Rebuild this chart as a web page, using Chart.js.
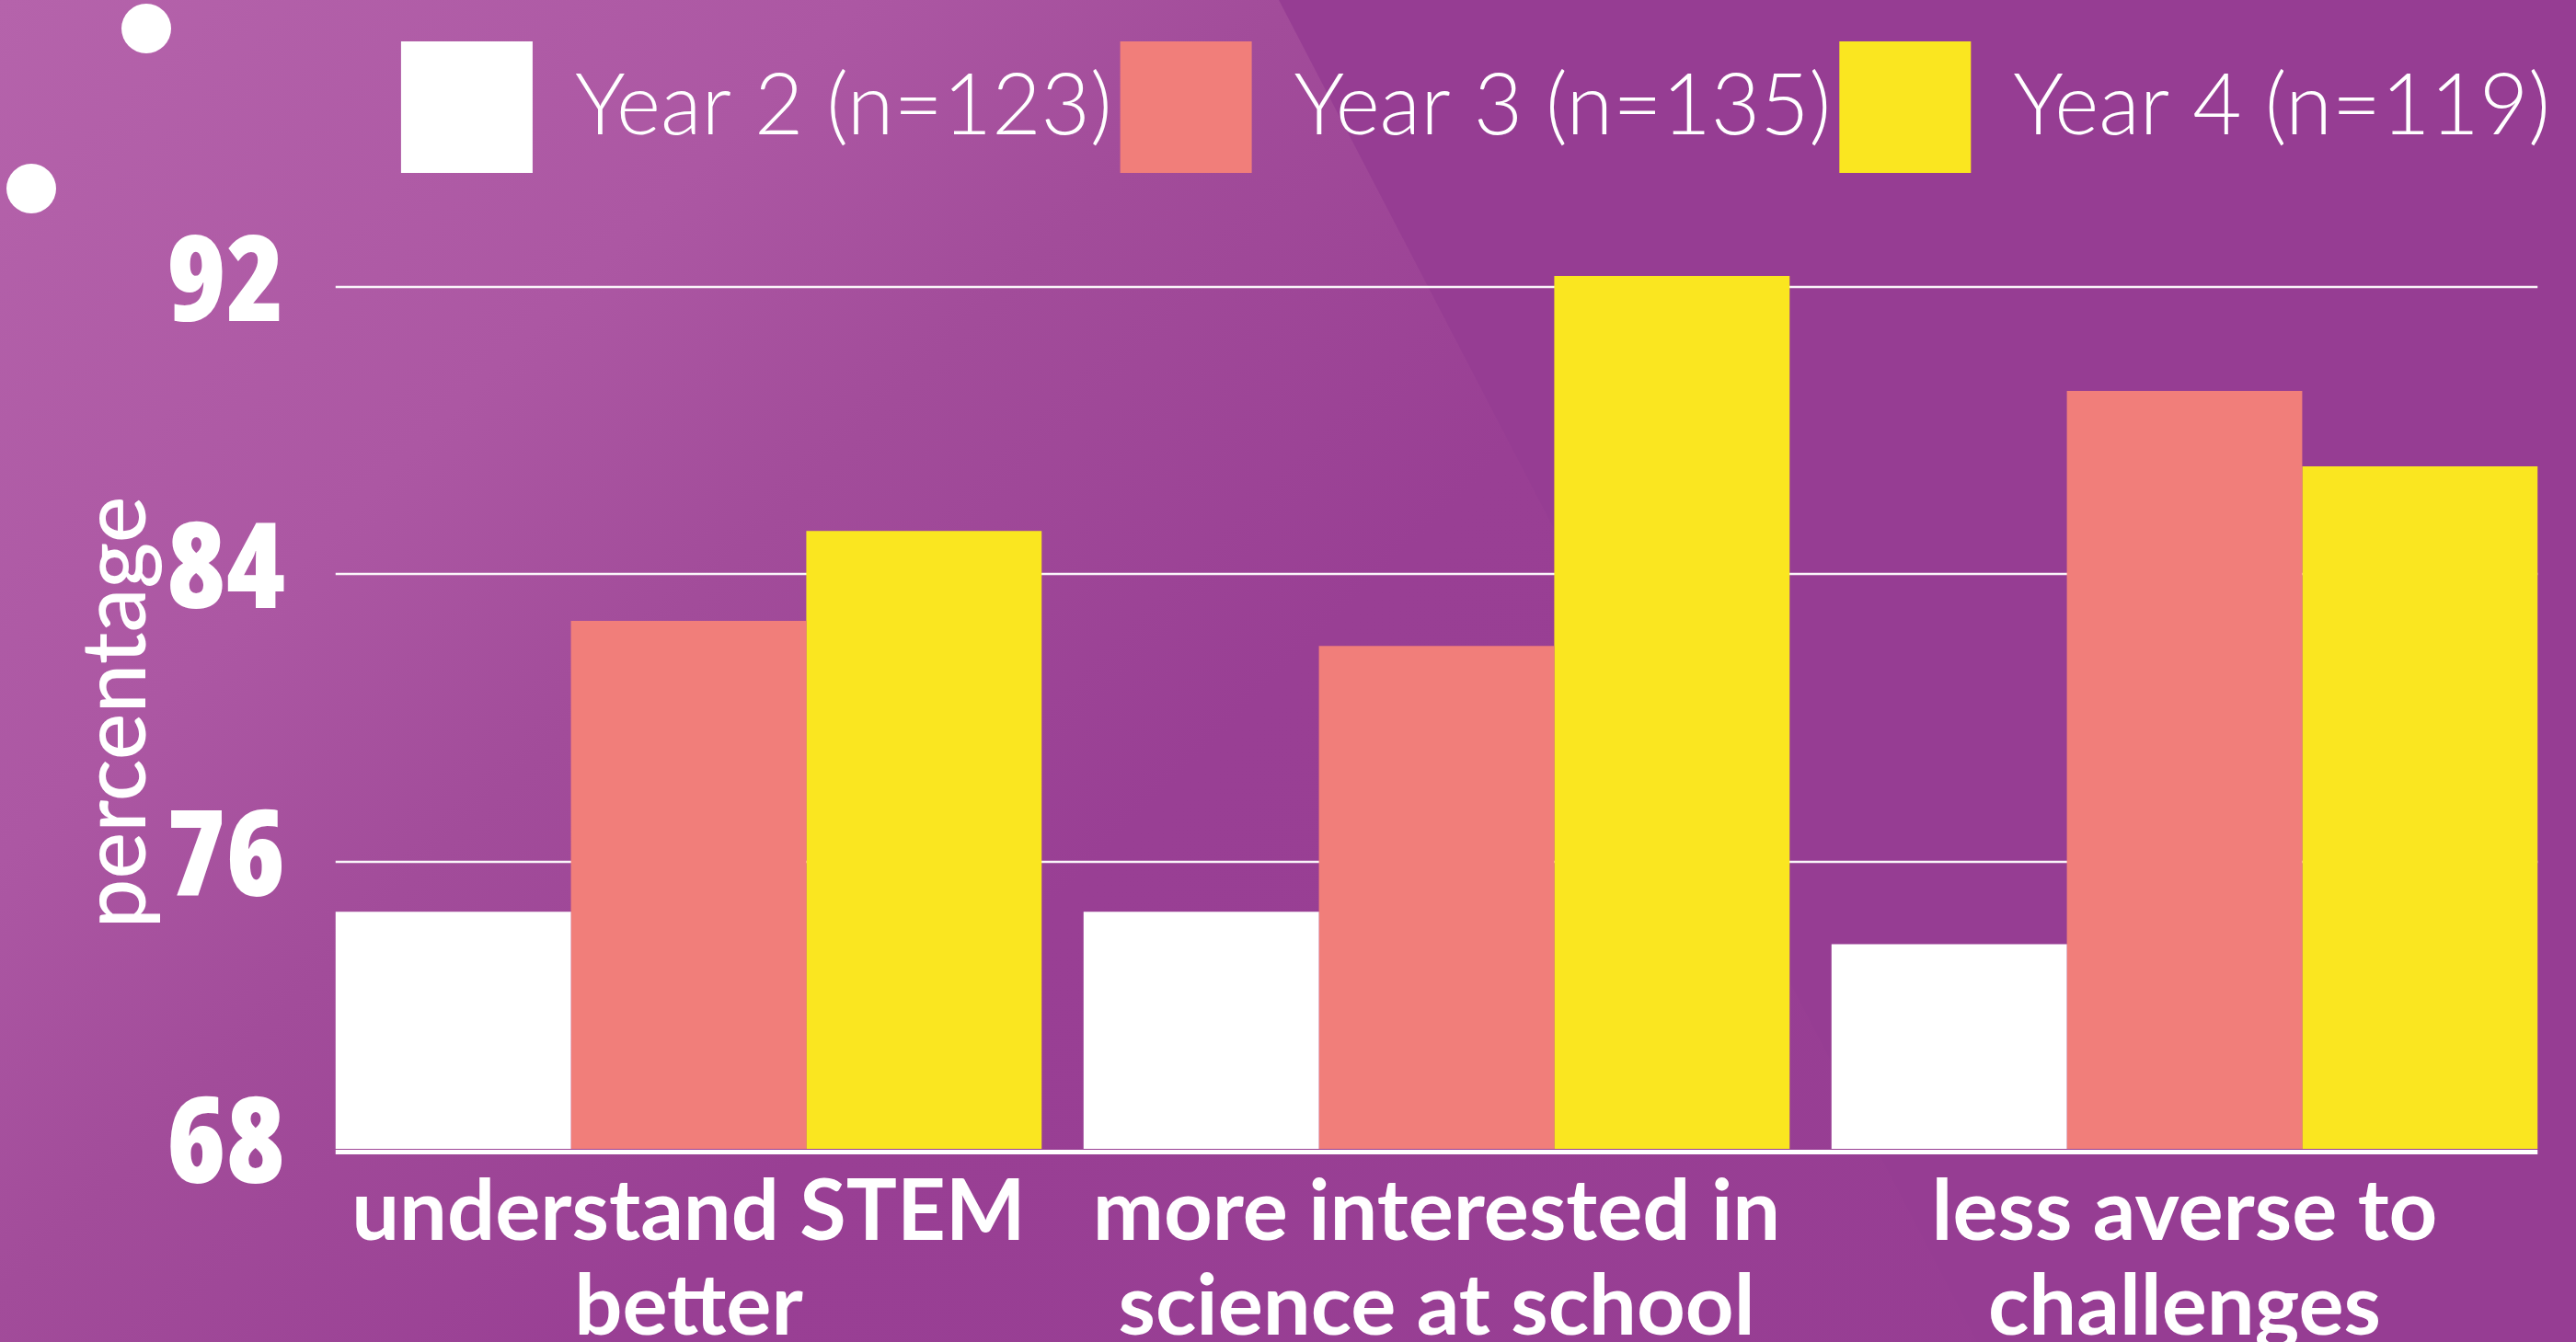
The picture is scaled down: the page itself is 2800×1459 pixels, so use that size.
<!DOCTYPE html>
<html lang="en">
<head>
    <meta charset="UTF-8">
    <title>Year 2 - Year 4 survey</title>
    <style>
        html, body {
            margin: 0;
            padding: 0;
        }
        body {
            width: 2800px;
            height: 1459px;
            overflow: hidden;
            position: relative;
            background: #963d93;
        }
        .glow {
            position: absolute;
            left: 0;
            top: 0;
            width: 2800px;
            height: 1459px;
            background: linear-gradient(135deg, #b563ab 0%, #ac57a3 22%, #a24c9a 33%, #993f94 50%, #963d93 100%);
            clip-path: polygon(0 0, 1390px 0, 2149px 1459px, 0 1459px);
        }
        .dot {
            position: absolute;
            width: 54px;
            height: 54px;
            border-radius: 50%;
            background: #fff;
        }
        .chart-box {
            position: absolute;
            left: 0;
            top: 0;
            width: 2800px;
            height: 1459px;
        }
    </style>
    <script src="https://cdn.jsdelivr.net/npm/chart.js"></script>
</head>
<body>
    <div class="glow"></div>
    <div class="dot" style="left:132px; top:4px;"></div>
    <div class="dot" style="left:7px; top:178px;"></div>
    <div class="chart-box"><canvas id="chart"></canvas></div>

    <script>
        // data
        const categories = [
            ['understand STEM', 'better'],
            ['more interested in', 'science at school'],
            ['less averse to', 'challenges']
        ];
        const seriesNames = ['Year 2 (n=123)', 'Year 3 (n=135)', 'Year 4 (n=119)'];
        const year2 = [74.6, 74.6, 73.7];
        const year3 = [82.7, 82.0, 89.1];
        const year4 = [85.2, 92.3, 87.0];
        const yTicks = [68, 76, 84, 92];
        const yMin = 68;
        const yMax = 92.3;

        const colors = ['#ffffff', '#f17e7a', '#fae620'];

        // push the plot down below the legend
        const legendSpacer = {
            id: 'legendSpacer',
            beforeInit(chart) {
                if (!chart.legend) return;
                const fit = chart.legend.fit;
                chart.legend.fit = function () {
                    fit.call(this);
                    this.height += 102;
                };
            }
        };

        // white grid lines only under the bar groups, plus the thick base line
        function barSpan(chart) {
            const first = chart.getDatasetMeta(0).data[0];
            const lastMeta = chart.getDatasetMeta(chart.data.datasets.length - 1);
            const last = lastMeta.data[lastMeta.data.length - 1];
            return [first.x - first.width / 2, last.x + last.width / 2];
        }
        const gridLines = {
            id: 'gridLines',
            beforeDatasetsDraw(chart) {
                const { ctx } = chart;
                const y = chart.scales.y;
                const [left, right] = barSpan(chart);
                ctx.save();
                ctx.strokeStyle = 'rgba(255,255,255,0.95)';
                ctx.lineWidth = 2.5;
                yTicks.forEach(v => {
                    if (v === yMin) return;
                    const py = Math.round(y.getPixelForValue(v));
                    ctx.beginPath();
                    ctx.moveTo(left, py);
                    ctx.lineTo(right, py);
                    ctx.stroke();
                });
                ctx.restore();
            },
            afterDatasetsDraw(chart) {
                const { ctx } = chart;
                const y = chart.scales.y;
                const [left, right] = barSpan(chart);
                ctx.save();
                ctx.fillStyle = '#ffffff';
                ctx.fillRect(left, y.getPixelForValue(yMin) + 1, right - left, 5);
                ctx.restore();
            }
        };

        const ctx = document.getElementById('chart').getContext('2d');
        new Chart(ctx, {
            type: 'bar',
            data: {
                labels: categories,
                datasets: [year2, year3, year4].map((vals, i) => ({
                    label: seriesNames[i],
                    data: vals,
                    backgroundColor: colors[i],
                    borderWidth: 0,
                    categoryPercentage: 0.944,
                    barPercentage: 1
                }))
            },
            options: {
                responsive: true,
                maintainAspectRatio: false,
                animation: false,
                layout: { padding: { top: 36, right: 19, bottom: 0, left: 0 } },
                plugins: {
                    legend: {
                        position: 'top',
                        align: 'end',
                        labels: {
                            color: '#ffffff',
                            boxWidth: 143,
                            boxHeight: 143,
                            padding: 9,
                            font: { family: 'Lato', size: 92, weight: 300 }
                        }
                    },
                    tooltip: { enabled: false }
                },
                scales: {
                    x: {
                        grid: { display: false, drawTicks: false },
                        border: { display: false },
                        ticks: {
                            color: '#ffffff',
                            padding: 18,
                            maxRotation: 0,
                            autoSkip: false,
                            font: { family: 'Lato', size: 92, weight: 700, lineHeight: 1.12 }
                        },
                        afterFit: s => { s.height = 210; }
                    },
                    y: {
                        min: yMin,
                        max: yMax,
                        grid: { display: false, drawTicks: false },
                        border: { display: false },
                        afterBuildTicks: s => { s.ticks = yTicks.map(v => ({ value: v })); },
                        ticks: {
                            color: '#ffffff',
                            padding: 32,
                            font: { family: "'Open Sans'", size: 130, weight: '800 condensed' }
                        },
                        title: {
                            display: true,
                            text: 'percentage',
                            color: '#ffffff',
                            font: { family: 'Lato', size: 96, weight: 500 },
                            padding: { top: 69, bottom: 0 }
                        },
                        afterFit: s => { s.width = 342; }
                    }
                }
            },
            plugins: [legendSpacer, gridLines]
        });
    </script>
</body>
</html>
